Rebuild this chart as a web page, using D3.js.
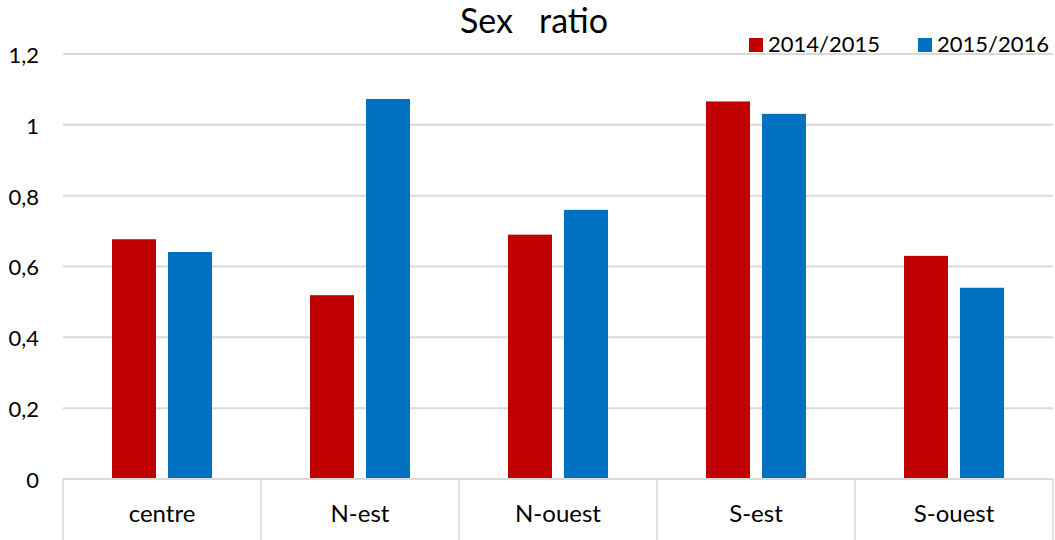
<!DOCTYPE html>
<html>
<head>
<meta charset="utf-8">
<script src="https://cdn.jsdelivr.net/npm/d3@7"></script>
<style>
  html, body { margin: 0; padding: 0; background: #fff; }
  svg { display: block; font-family: Lato, "Open Sans", sans-serif; }
</style>
</head>
<body>
<svg id="chart" width="1055" height="540"></svg>
<script>
// Regions and sex ratio per school year
const categories = ["centre", "N-est", "N-ouest", "S-est", "S-ouest"];
const seriesNames = ["2014/2015", "2015/2016"];
const values2014 = [0.677, 0.519, 0.690, 1.066, 0.630];
const values2015 = [0.641, 1.073, 0.760, 1.031, 0.540];
const yTicks = [0, 0.2, 0.4, 0.6, 0.8, 1, 1.2];
const colors = ["#C00000", "#0070C0"];

const seriesValues = [values2014, values2015];

const svg = d3.select("#chart");
const W = 1055, H = 540;
const plotLeft = 63, plotRight = 1053, plotTop = 54, plotBottom = 479;

const x = d3.scaleBand().domain(categories).range([plotLeft, plotRight]).padding(0);
const xs = d3.scaleBand().domain(seriesNames).range([0, x.bandwidth()])
  .paddingInner(12 / 56).paddingOuter(0.875);
const y = d3.scaleLinear().domain([0, 1.2]).range([plotBottom, plotTop]);

const fmt = v => String(v).replace(".", ",");

// horizontal gridlines
svg.append("g")
  .selectAll("line")
  .data(yTicks.filter(t => t > 0))
  .join("line")
  .attr("x1", plotLeft).attr("x2", plotRight)
  .attr("y1", d => y(d)).attr("y2", d => y(d))
  .attr("stroke", "#d9d9d9").attr("stroke-width", 2);

// y tick labels
svg.append("g")
  .selectAll("text")
  .data(yTicks)
  .join("text")
  .attr("x", 39)
  .attr("y", d => y(d) + 1)
  .attr("dy", "0.36em")
  .attr("text-anchor", "end")
  .attr("font-size", 22)
  .attr("fill", "#000")
  .text(fmt);

// bars
const rows = categories.map((c, i) => ({ cat: c, vals: seriesValues.map(s => s[i]) }));
svg.append("g")
  .selectAll("g")
  .data(rows)
  .join("g")
  .attr("transform", d => `translate(${x(d.cat)},0)`)
  .selectAll("rect")
  .data(d => d.vals.map((v, k) => ({ name: seriesNames[k], v, k })))
  .join("rect")
  .attr("x", d => xs(d.name))
  .attr("width", xs.bandwidth())
  .attr("y", d => y(d.v))
  .attr("height", d => y(0) - y(d.v))
  .attr("fill", d => colors[d.k]);

// category axis: baseline plus box dividers below
const axis = svg.append("g");
axis.append("line")
  .attr("x1", plotLeft).attr("x2", plotRight)
  .attr("y1", plotBottom).attr("y2", plotBottom)
  .attr("stroke", "#d9d9d9").attr("stroke-width", 2);
const bounds = categories.map(c => x(c)).concat([plotRight]);
axis.selectAll("line.div")
  .data(bounds)
  .join("line")
  .attr("class", "div")
  .attr("x1", d => d).attr("x2", d => d)
  .attr("y1", plotBottom).attr("y2", H)
  .attr("stroke", "#d9d9d9").attr("stroke-width", 1.5);
axis.selectAll("text")
  .data(categories)
  .join("text")
  .attr("x", d => x(d) + x.bandwidth() / 2)
  .attr("y", 513)
  .attr("dy", "0.36em")
  .attr("text-anchor", "middle")
  .attr("font-size", 24)
  .attr("fill", "#000")
  .text(d => d);

// title
svg.append("text")
  .attr("x", 534)
  .attr("y", 33)
  .attr("text-anchor", "middle")
  .attr("font-size", 34)
  .attr("fill", "#000")
  .attr("xml:space", "preserve")
  .style("white-space", "pre")
  .text("Sex   ratio");

// legend
const legendX = [749, 918];
const legend = svg.append("g")
  .selectAll("g")
  .data(seriesNames)
  .join("g")
  .attr("transform", (d, i) => `translate(${legendX[i]},38)`);
legend.append("rect")
  .attr("width", 14).attr("height", 14)
  .attr("fill", (d, i) => colors[i]);
legend.append("text")
  .attr("x", 19)
  .attr("y", 14)
  .attr("font-size", 22)
  .attr("fill", "#000")
  .text(d => d);
</script>
</body>
</html>
